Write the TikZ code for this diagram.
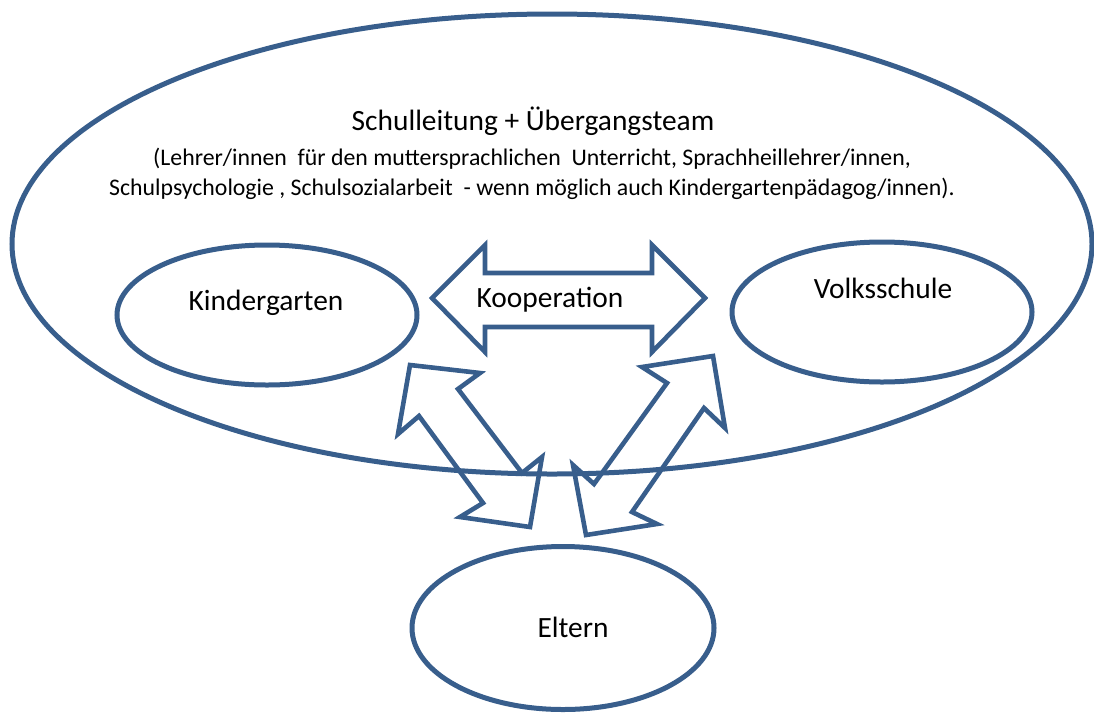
\documentclass[tikz,border=0pt]{standalone}
\usepackage{fontspec}
\setmainfont{Carlito}
\usetikzlibrary{shapes.geometric}
\definecolor{blueline}{RGB}{56,94,140}
\begin{document}
\begin{tikzpicture}[x=1pt,y=-1pt,
  oval/.style={ellipse, draw=blueline, line width=5pt, inner sep=0pt},
  blockarrow/.style={draw=blueline, line width=4.6pt, line join=miter},
  bigtxt/.style={font=\fontsize{29.4}{34}\selectfont, inner sep=0pt},
  smalltxt/.style={font=\fontsize{23.8}{30}\selectfont, inner sep=0pt, align=center}]
\useasboundingbox (0,0) rectangle (1094,713);
\node[oval, minimum width=1080pt, minimum height=460pt] (team) at (552,244) {};
\node[bigtxt] (title) at (533,121) {Schulleitung + Übergangsteam};
\node[smalltxt] (sub) at (532,174) {(Lehrer/innen\ \ für den muttersprachlichen\ \ Unterricht, Sprachheillehrer/innen,\\Schulpsychologie , Schulsozialarbeit\ \ - wenn möglich auch Kindergartenpädagog/innen).};
\node[oval, minimum width=300pt, minimum height=140pt] (kg) at (267,315) {};
\node[bigtxt] (kgt) at (266,303) {Kindergarten};
\node[oval, minimum width=300pt, minimum height=140pt] (vs) at (882,312) {};
\node[bigtxt] (vst) at (883,288) {Volksschule};
\node[oval, minimum width=302pt, minimum height=163pt] (el) at (563,628) {};
\node[bigtxt] (elt) at (573,627) {Eltern};
% Kooperation double arrow
\draw[blockarrow] (432,298) -- (485,245) -- (485,273) -- (652,273) -- (652,245) -- (705,298)
  -- (652,352) -- (652,327) -- (485,327) -- (485,352) -- cycle;
\node[bigtxt] (koop) at (550,300) {Kooperation};
% Kindergarten - Eltern
\draw[blockarrow] (410,365) -- (480,373) -- (458,389) -- (522,473) -- (542,457) -- (530,527)
  -- (460,517) -- (483,503) -- (419,416) -- (398,434) -- cycle;
% Volksschule - Eltern
\draw[blockarrow] (713,356) -- (725,428) -- (704,408) -- (632,512) -- (657,524) -- (586,535)
  -- (573,465) -- (594,484) -- (667,383) -- (642,367) -- cycle;
\end{tikzpicture}
\end{document}
